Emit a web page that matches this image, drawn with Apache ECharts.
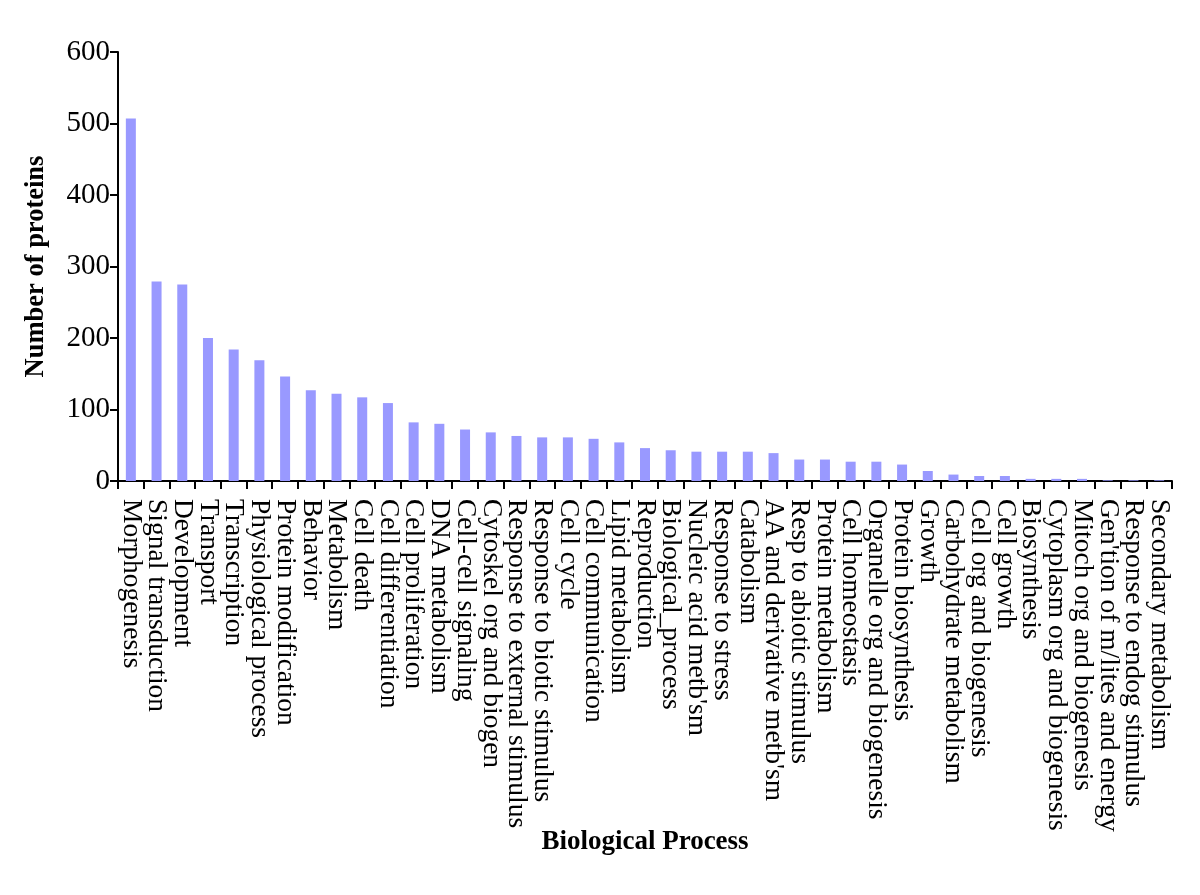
<!DOCTYPE html>
<html>
<head>
<meta charset="utf-8">
<script src="https://cdn.jsdelivr.net/npm/echarts@6/dist/echarts.min.js"></script>
<style>
html,body{margin:0;padding:0;background:#fff;}
#chart{width:1200px;height:895px;}
</style>
</head>
<body>
<div id="chart"></div>
<script>
const categories = [
  "Morphogenesis","Signal transduction","Development","Transport","Transcription",
  "Physiological process","Protein modification","Behavior","Metabolism","Cell death",
  "Cell differentiation","Cell proliferation","DNA metabolism","Cell-cell signaling",
  "Cytoskel org and biogen","Response to external stimulus","Response to biotic stimulus",
  "Cell cycle","Cell communication","Lipid metabolism","Reproduction","Biological_process",
  "Nucleic acid metb'sm","Response to stress","Catabolism","AA and derivative metb'sm",
  "Resp to abiotic stimulus","Protein metabolism","Cell homeostasis",
  "Organelle org and biogenesis","Protein biosynthesis","Growth","Carbohydrate metabolism",
  "Cell org and biogenesis","Cell growth","Biosynthesis","Cytoplasm org and biogenesis",
  "Mitoch org and biogenesis","Gen'tion of m/lites and energy","Response to endog stimulus",
  "Secondary metabolism"
];
const proteins = [
  507, 279, 275, 200, 184,
  169, 146, 127, 122, 117,
  109, 82, 80, 72,
  68, 63, 61,
  61, 59, 54, 46, 43,
  41, 41, 41, 39,
  30, 30, 27,
  27, 23, 14, 9,
  7, 7, 3, 3,
  3, 1, 1,
  1
];
const yTicks = { min: 0, max: 600, interval: 100 };
const xTitle = "Biological Process";
const yTitle = "Number of proteins";

const font = "'Liberation Serif','Times New Roman',serif";
const chart = echarts.init(document.getElementById('chart'), null, {renderer: 'canvas'});
chart.setOption({
  animation: false,
  backgroundColor: '#ffffff',
  grid: { left: 118, right: 28, top: 52, bottom: 414, containLabel: false },
  xAxis: {
    type: 'category',
    data: categories,
    boundaryGap: true,
    name: xTitle,
    nameLocation: 'middle',
    nameGap: 348,
    nameMoveOverlap: false,
    nameTextStyle: { fontFamily: font, fontSize: 27, fontWeight: 'bold', color: '#000' },
    axisLine: { lineStyle: { color: '#000', width: 2 } },
    axisTick: { show: true, inside: false, length: 8, lineStyle: { color: '#000', width: 2 }, alignWithLabel: false, interval: 0 },
    axisLabel: { interval: 0, rotate: -90, margin: 18, fontFamily: font, fontSize: 27.5, color: '#000' }
  },
  yAxis: {
    type: 'value',
    min: yTicks.min, max: yTicks.max, interval: yTicks.interval,
    name: yTitle,
    nameLocation: 'middle',
    nameGap: 68,
    nameRotate: 90,
    nameMoveOverlap: false,
    nameTextStyle: { fontFamily: font, fontSize: 26.5, fontWeight: 'bold', color: '#000' },
    axisLine: { show: true, lineStyle: { color: '#000', width: 2 } },
    axisTick: { show: true, inside: false, length: 8, lineStyle: { color: '#000', width: 2 } },
    axisLabel: { margin: 8, fontFamily: font, fontSize: 29, color: '#000' },
    splitLine: { show: false }
  },
  series: [{
    type: 'bar',
    data: proteins,
    barWidth: 10,
    itemStyle: { color: '#9999ff' }
  }]
});
</script>
</body>
</html>
